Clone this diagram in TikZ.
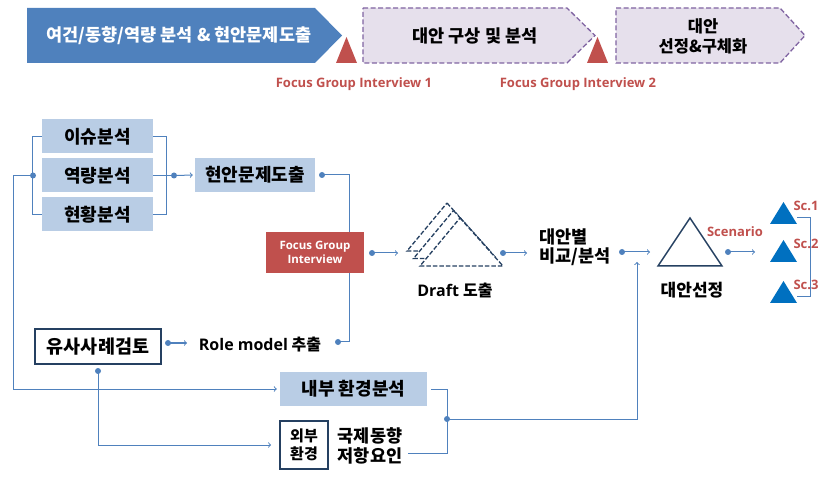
\documentclass[tikz,border=0pt]{standalone}
\usepackage{fontspec}
\setmainfont{Noto Sans CJK KR}
\newfontfamily\latinsf{Open Sans}

\definecolor{boxblue}{HTML}{B9CDE5}
\definecolor{lineblue}{HTML}{4F81BD}
\definecolor{chevblue}{HTML}{4F81BD}
\definecolor{chevfill}{HTML}{E6E0EC}
\definecolor{chevline}{HTML}{8064A2}
\definecolor{fgired}{HTML}{C0504D}
\definecolor{navy}{HTML}{254061}
\definecolor{triblue}{HTML}{0070C0}

\tikzset{
  bannertext/.style={inner sep=0pt, font=\bfseries\fontsize{17.5}{20}\selectfont},
  bluebox/.style={fill=boxblue, inner sep=0pt, minimum height=34,
    font=\bfseries\fontsize{18}{20}\selectfont},
  navybox/.style={draw=navy, line width=1.8pt, fill=white, inner sep=0pt,
    font=\bfseries\fontsize{18.5}{20}\selectfont},
  plainlabel/.style={inner sep=0pt, font=\bfseries\fontsize{17}{19}\selectfont},
  redlabel/.style={inner sep=0pt, text=fgired,
    font=\latinsf\bfseries\fontsize{13}{15}\selectfont},
  link/.style={draw=lineblue, line width=1pt},
  arr/.style={link, ->},
  chevdash/.style={fill=chevfill, draw=chevline, line width=1.3pt,
    dash pattern=on 5pt off 2.5pt},
  draftline/.style={draw=navy, line width=1.3pt, dash pattern=on 4.5pt off 2pt}
}

\newcommand{\vertexdot}[1]{\fill[lineblue] (#1) circle (3);}

\begin{document}
\begin{tikzpicture}[x=1pt,y=-1pt]
\useasboundingbox (0,0) rectangle (828,489);

% Stages along the top
\fill[chevblue] (27,8) -- (315,8) -- (342,35.5) -- (315,63) -- (27,63) -- cycle;
\node[bannertext, text=white] (stage1) at (179,36) {여건/동향/역량 분석 \& 현안문제도출};
\filldraw[chevdash] (363,8) -- (567,8) -- (595,35.5) -- (567,63) -- (363,63) -- cycle;
\node[bannertext] (stage2) at (475,36) {대안 구상 및 분석};
\filldraw[chevdash] (616,8) -- (780,8) -- (805,35.5) -- (780,63) -- (616,63) -- cycle;
\node[bannertext, align=center, font=\bfseries\fontsize{16.5}{20}\selectfont]
  (stage3) at (703,36) {대안\\선정\&구체화};

% Interview markers between the stages
\fill[fgired] (336,63) -- (346.5,37) -- (357,63) -- cycle;
\fill[fgired] (587,63) -- (597.5,37) -- (608,63) -- cycle;
\node[redlabel] (fgi1) at (354,84) {Focus Group Interview 1};
\node[redlabel] (fgi2) at (578,84) {Focus Group Interview 2};

% Analysis boxes
\node[bluebox, minimum width=111] (issue) at (97.5,136.5) {이슈분석};
\node[bluebox, minimum width=111] (capab) at (97.5,175.5) {역량분석};
\node[bluebox, minimum width=111] (status) at (97.5,214.5) {현황분석};
\node[bluebox, minimum width=120] (problem) at (255,175) {현안문제도출};
\node[bluebox, minimum width=147] (inner) at (353.5,389) {내부 환경분석};

\node[navybox, minimum width=126, minimum height=35] (cases) at (98,346.5) {유사사례검토};
\node[navybox, minimum width=48, minimum height=48, align=center,
  font=\bfseries\fontsize{15}{18}\selectfont] (outer) at (304,445) {외부\\환경};
\node[plainlabel, align=left, font=\bfseries\fontsize{17.5}{20}\selectfont]
  (trend) at (370,446) {국제동향\\저항요인};
\node[plainlabel, font=\bfseries\fontsize{16}{19}\selectfont]
  (rolemodel) at (260,345) {{\latinsf Role model} 추출};

% Points where the connectors meet
\coordinate (lbr) at (33,175.5);
\coordinate (rdot) at (174,175.5);
\coordinate (pdot) at (322,175);
\coordinate (rmdot) at (338,342);
\coordinate (fdot) at (372,253);
\coordinate (draftin) at (398,253);
\coordinate (ddot) at (503,253);
\coordinate (cmpin) at (527,253);
\coordinate (cdot) at (622,252);
\coordinate (selin) at (650,252);
\coordinate (sdot) at (728,252);
\coordinate (scin) at (755,252);
\coordinate (casedot) at (168,343);
\coordinate (rmin) at (187,343);
\coordinate (cbdot) at (98,371);
\coordinate (envdot) at (447,419);
\coordinate (upend) at (637,262);
\coordinate (trendout) at (408,453);

% Brackets round the three analyses
\draw[link] (issue.west) -- ++(-9,0) |- (status.west);
\draw[link] (issue.east) -- ++(13,0) |- (status.east);
\draw[link] (capab.east) -- (rdot);
\draw[arr, shorten >=2pt] (rdot) -- (problem.west);
\draw[arr, shorten >=3pt] (lbr) -- ++(-20,0) |- (inner.west);

% Issues and role model go into the interview
\draw[link] (pdot) -- ++(27,0) |- (rmdot);
\node[fill=fgired, text=white, minimum width=98, minimum height=41, align=center,
  inner sep=0pt, font=\latinsf\bfseries\fontsize{11.5}{14}\selectfont]
  (fgi) at (315,252.5) {Focus Group\\Interview};
\draw[arr] (casedot) -- (rmin);
\draw[arr, shorten >=8pt] (cbdot) |- (outer.west);

% Draft: three stacked dashed triangles
\foreach \k in {0,1,2}
  \filldraw[fill=white, draftline, shift={(\k*6.5,\k*7.5)}]
    (447,203) -- (490,251) -- (407,251) -- cycle;
\node[plainlabel, font=\latinsf\bfseries\fontsize{16}{18}\selectfont] (draft) at (455,290)
  {Draft \fontspec{Noto Sans CJK KR}\bfseries 도출};
\draw[arr] (fdot) -- (draftin);
\draw[arr] (ddot) -- (cmpin);
\node[plainlabel, align=left, anchor=west, font=\bfseries\fontsize{17.5}{19}\selectfont]
  (compare) at (539,247) {대안별\\비교/분석};
\draw[arr] (cdot) -- (selin);

% Environment analysis feeds the selection
\draw[link] ([xshift=4pt]inner.east) -| (envdot);
\draw[link] (envdot) |- (trendout);
\draw[arr] (envdot) -| (upend);

% Selection and scenarios
\draw[navy, line width=1.5pt] (690,218) -- (722,266) -- (658,266) -- cycle;
\node[plainlabel] (select) at (692,290) {대안선정};
\node[redlabel] (scenario) at (735,232) {Scenario};
\draw[arr] (sdot) -- (scin);
\foreach \t/\n in {202/1, 240/2, 281/3} {
  \fill[triblue] (770,\t+22) -- (783.5,\t) -- (797,\t+22) -- cycle;
  \node[redlabel] (sc\n) at (806,\t+4) {Sc.\n};
}
\draw[link] (797,218) -| (810,297) -- (797,297);

% Bullets on the connectors
\foreach \p in {lbr, rdot, pdot, rmdot, fdot, ddot, cdot, sdot, casedot, cbdot, envdot}
  \vertexdot{\p};

\end{tikzpicture}
\end{document}
